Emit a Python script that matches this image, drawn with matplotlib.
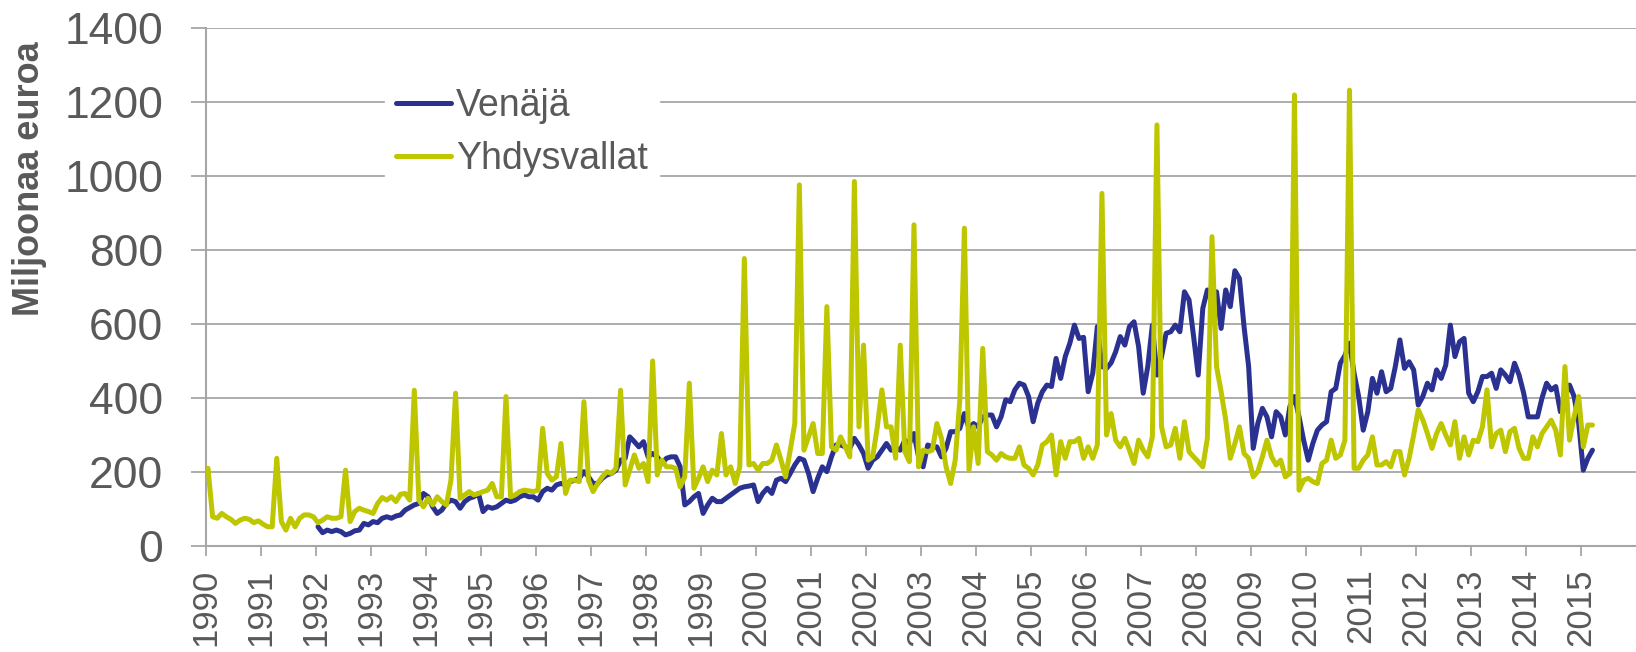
#Monthly imports from Russia and the USA, 1990-2015
#Values (million euro)

import numpy as np
import matplotlib.pyplot as plt

plt.rcParams['font.family'] = ['Liberation Sans', 'DejaVu Sans']

#Series labels
labels = ['Venäjä', 'Yhdysvallat']

#Yhdysvallat, monthly from Jan 1990
usa_start = 1990
usa = [
    210, 79, 75, 88, 79, 72, 61, 70, 75, 72, 63, 68,            #1990
    59, 52, 52, 237, 66, 43, 75, 52, 75, 84, 84, 79,            #1991
    63, 70, 79, 75, 75, 79, 205, 66, 93, 102, 97, 93,           #1992
    88, 115, 131, 124, 133, 120, 140, 142, 124, 421, 124, 106,  #1993
    129, 111, 133, 120, 111, 178, 413, 129, 138, 147, 138, 142, #1994
    147, 151, 169, 133, 133, 404, 133, 138, 147, 151, 149, 147, #1995
    151, 318, 196, 178, 187, 277, 142, 178, 178, 174, 390, 178, #1996
    147, 169, 187, 201, 196, 210, 421, 165, 205, 246, 210, 223, #1997
    174, 500, 192, 232, 214, 214, 210, 160, 187, 440, 156, 183, #1998
    214, 174, 205, 192, 304, 192, 214, 169, 214, 777, 219, 223, #1999
    205, 223, 223, 232, 273, 232, 187, 259, 331, 976, 259, 295, #2000
    331, 250, 250, 647, 268, 259, 295, 268, 241, 985, 322, 543, #2001
    232, 241, 322, 422, 322, 322, 237, 543, 255, 228, 868, 214, #2002
    259, 255, 259, 331, 291, 214, 169, 232, 395, 859, 205, 322, #2003
    223, 534, 255, 246, 232, 250, 241, 237, 237, 268, 219, 210, #2004
    192, 219, 273, 282, 300, 192, 282, 237, 282, 282, 291, 237, #2005
    268, 237, 273, 953, 300, 358, 286, 268, 291, 259, 223, 286, #2006
    259, 241, 295, 1138, 322, 268, 273, 318, 237, 336, 255, 241,#2007
    228, 214, 291, 836, 485, 417, 341, 237, 277, 322, 250, 237, #2008
    187, 201, 241, 286, 241, 219, 232, 187, 196, 1219, 151, 178,#2009
    183, 174, 169, 223, 232, 286, 237, 246, 286, 1232, 210, 210,#2010
    232, 246, 295, 219, 219, 228, 214, 255, 255, 192, 237, 300, #2011
    368, 341, 304, 264, 304, 331, 300, 273, 336, 237, 295, 246, #2012
    286, 282, 322, 422, 268, 304, 313, 255, 309, 318, 264, 237, #2013
    237, 295, 268, 304, 322, 340, 313, 246, 485, 286, 350, 404, #2014
    268, 327, 327]                                              #2015

#Venaja, monthly from Jan 1992
venaja_start = 1992
venaja = [
    52, 36, 43, 39, 43, 39, 30, 34, 41, 43, 61, 57,             #1992
    66, 63, 75, 79, 75, 81, 84, 97, 104, 111, 115, 142,         #1993
    133, 106, 88, 97, 115, 124, 120, 102, 120, 129, 133, 142,   #1994
    93, 106, 102, 106, 115, 124, 120, 124, 133, 138, 133, 133,  #1995
    124, 147, 156, 151, 165, 169, 165, 174, 178, 183, 201, 187, #1996
    169, 169, 183, 192, 196, 205, 232, 237, 295, 282, 268, 282, #1997
    241, 250, 241, 223, 237, 241, 241, 214, 111, 120, 133, 142, #1998
    88, 111, 129, 120, 120, 129, 138, 147, 156, 160, 162, 165,  #1999
    120, 142, 156, 142, 178, 183, 174, 196, 219, 237, 232, 196, #2000
    147, 183, 214, 201, 241, 273, 273, 268, 264, 291, 273, 250, #2001
    210, 232, 241, 259, 277, 259, 264, 259, 286, 277, 304, 241, #2002
    214, 273, 268, 268, 241, 264, 309, 309, 318, 358, 318, 331, #2003
    322, 349, 354, 354, 322, 349, 395, 390, 422, 440, 435, 404, #2004
    336, 386, 417, 435, 431, 507, 453, 512, 548, 597, 561, 564, #2005
    417, 467, 593, 485, 480, 495, 525, 566, 543, 593, 606, 539, #2006
    413, 485, 597, 462, 512, 575, 579, 597, 579, 687, 665, 566, #2007
    462, 642, 692, 687, 687, 588, 692, 647, 744, 723, 593, 485, #2008
    264, 331, 372, 349, 295, 363, 349, 300, 377, 404, 349, 286, #2009
    232, 277, 313, 327, 336, 417, 426, 494, 515, 548, 467, 404, #2010
    313, 363, 453, 413, 471, 417, 426, 485, 557, 480, 498, 476, #2011
    381, 404, 440, 422, 476, 453, 489, 597, 512, 552, 561, 413, #2012
    390, 417, 458, 458, 467, 426, 476, 462, 444, 494, 462, 413, #2013
    349, 349, 349, 400, 440, 422, 431, 363, 404, 435, 404, 332, #2014
    205, 237, 259]                                              #2015

#Axis settings
years = np.arange(1990, 2016)
yticks = np.arange(0, 1401, 200)

#Colours
blue = '#2b3190'
green = '#bec600'
grid_col = '#a6a6a6'
text_col = '#595959'

#Month centres as decimal years
x_usa = usa_start + (np.arange(len(usa)) + 0.5)/12
x_ven = venaja_start + (np.arange(len(venaja)) + 0.5)/12

W, H = 1636, 652
fig = plt.figure(figsize=(W/100, H/100), dpi=100)
ax = fig.add_axes([205.7/W, 1 - 546/H, (W - 205.7)/W, (546 - 28)/H])

ax.plot(x_ven, venaja, color=blue, lw=3.6, label=labels[0],
        solid_joinstyle='round', solid_capstyle='round', zorder=3)
ax.plot(x_usa, usa, color=green, lw=3.6, label=labels[1],
        solid_joinstyle='round', solid_capstyle='round', zorder=4)

ax.set_xlim(1990, 2016)
ax.set_ylim(0, 1400)
ax.set_xticks(years)
ax.set_xticklabels([str(y) for y in years], rotation=90, fontsize=25, color=text_col)
ax.set_yticks(yticks)
ax.set_yticklabels([str(v) for v in yticks], fontsize=32, color=text_col)

#Grid and spines
ax.grid(axis='y', color=grid_col, lw=1.3, zorder=0)
ax.set_axisbelow(True)
for s in ['top', 'right']:
    ax.spines[s].set_visible(False)
for s in ['left', 'bottom']:
    ax.spines[s].set_color(grid_col)
    ax.spines[s].set_linewidth(1.5)
ax.tick_params(axis='y', length=10.5, width=1.3, color=grid_col, pad=20)
ax.tick_params(axis='x', length=7.2, width=1.3, color=grid_col, pad=9)

fig.text(29.7/W, 1 - 179/H, 'Miljoonaa euroa', rotation=90, fontsize=26,
         fontweight='bold', color=text_col, ha='center', va='center')

leg = ax.legend(loc='upper left', bbox_to_anchor=(385/W, 1 - 77/H),
                bbox_transform=fig.transFigure, fontsize=27, frameon=True,
                fancybox=False, facecolor='white', edgecolor='white',
                framealpha=1, handlelength=1.45, handletextpad=0.15,
                borderpad=0.3, labelspacing=0.45, borderaxespad=0)
for t in leg.get_texts():
    t.set_color(text_col)
leg.set_zorder(5)

plt.savefig('out.png', dpi=100)
